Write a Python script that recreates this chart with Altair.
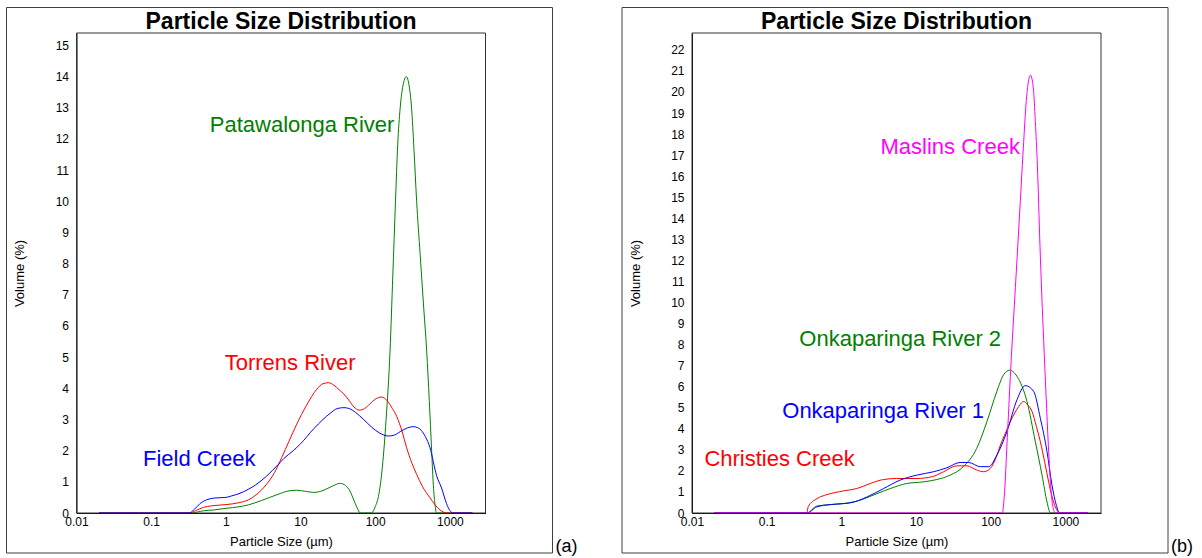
import altair as alt
import pandas as pd

# ---------------- Panel (a) ----------------
patawalonga_size = [0.02, 0.34, 0.5, 0.7, 1.0, 1.5, 2.0, 3.0, 5.0, 7.0, 8.9, 12, 15, 20, 27, 34, 40, 46, 51, 57, 63,
                    89, 100, 112, 125, 140, 158, 172, 187, 200, 216, 235, 261, 285, 307, 330, 359, 400, 440, 489,
                    530, 570, 597, 630, 664, 700, 2000]
patawalonga_vol = [0, 0, 0.07, 0.1, 0.15, 0.2, 0.26, 0.4, 0.6, 0.71, 0.73, 0.69, 0.66, 0.72, 0.87, 0.95, 0.88, 0.7,
                   0.45, 0.18, 0, 0, 0.2, 0.6, 1.5, 3.0, 5.2, 7.6, 10, 11.8, 13, 13.7, 14.0, 13.7, 13, 11.7, 10, 8.3,
                   6.8, 5.2, 3.6, 2.0, 1.0, 0.3, 0, 0, 0]

torrens_size = [0.02, 0.33, 0.4, 0.5, 0.65, 1.0, 1.5, 2.0, 2.6, 3.5, 4.5, 5.6, 7, 8.9, 12, 16.5, 20, 23.6, 28, 33,
                38, 45, 52, 61, 72, 85, 100, 122, 145, 170, 194, 230, 263, 310, 359, 430, 541, 640, 735, 820, 900,
                2000]
torrens_vol = [0, 0, 0.08, 0.18, 0.23, 0.27, 0.33, 0.42, 0.6, 0.92, 1.3, 1.78, 2.3, 2.85, 3.45, 3.97, 4.15, 4.18,
               4.1, 3.95, 3.82, 3.6, 3.4, 3.3, 3.35, 3.5, 3.65, 3.72, 3.6, 3.35, 3.1, 2.6, 2.1, 1.6, 1.24, 0.85,
               0.49, 0.25, 0.1, 0.03, 0, 0]

field_size = [0.02, 0.32, 0.38, 0.45, 0.55, 0.7, 1.0, 1.2, 1.5, 2.0, 2.5, 3.5, 5.0, 6.0, 8.0, 10, 15, 20, 25, 31,
              38, 45, 55, 70, 90, 112, 130, 150, 180, 220, 270, 323, 370, 415, 470, 541, 664, 774, 903, 1000,
              1100, 2000]
field_vol = [0, 0, 0.12, 0.3, 0.42, 0.48, 0.5, 0.55, 0.62, 0.76, 0.9, 1.18, 1.55, 1.75, 2.0, 2.22, 2.7, 3.0, 3.2,
             3.35, 3.38, 3.35, 3.22, 3.0, 2.75, 2.58, 2.5, 2.47, 2.5, 2.62, 2.73, 2.77, 2.74, 2.65, 2.45, 2.1, 1.2,
             0.8, 0.3, 0.08, 0, 0]

# ---------------- Panel (b) ----------------
onk2_size = [0.02, 0.344, 0.47, 1.07, 1.61, 3.0, 4.5, 7.5, 12.6, 19, 28.7, 43, 65, 89, 121, 149, 179, 225, 306,
             396, 487, 568, 630, 2000]
onk2_vol = [0, 0, 0.33, 0.45, 0.56, 0.92, 1.16, 1.4, 1.48, 1.59, 1.8, 2.2, 3.07, 4.34, 5.78, 6.57, 6.78, 6.49, 5.3,
            3.39, 1.8, 0.52, 0, 0]

christies_size = [0.02, 0.344, 0.36, 0.47, 0.64, 1.07, 1.61, 2.43, 3.67, 5.5, 10.3, 16.3, 23.4, 35.3, 48, 65, 80.5,
                  99, 120, 135, 160, 183, 210, 237, 277, 310, 358, 410, 462, 530, 597, 660, 734, 790, 838, 2000]
christies_vol = [0, 0, 0.3, 0.68, 0.87, 1.05, 1.16, 1.4, 1.59, 1.64, 1.64, 1.72, 1.96, 2.24, 2.24, 2.04, 1.96, 2.12,
                 2.7, 3.23, 3.85, 4.34, 4.75, 5.06, 5.3, 5.15, 4.82, 4.1, 3.39, 2.4, 1.48, 0.8, 0.29, 0.08, 0, 0]

onk1_size = [0.02, 0.344, 0.47, 0.71, 1.31, 2.2, 3.67, 6.1, 10.3, 17.2, 26, 39, 50.7, 72.7, 94, 121, 165, 225, 290,
             376, 462, 568, 662, 757, 838, 2000]
onk1_vol = [0, 0, 0.29, 0.4, 0.48, 0.76, 1.16, 1.56, 1.8, 1.96, 2.15, 2.4, 2.4, 2.2, 2.2, 2.75, 3.87, 5.38, 6.05,
            5.78, 4.5, 2.91, 1.32, 0.37, 0, 0]

maslins_size = [0.02, 143, 152, 167, 189, 214, 242, 273, 300, 324, 340, 372, 396, 422, 457, 484, 512, 551, 592, 639,
                680, 735, 2000]
maslins_vol = [0, 0, 0.8, 3.6, 7.4, 10.7, 14.0, 17.3, 19.6, 20.6, 20.8, 20.2, 18.6, 16.5, 12.7, 10.3, 8.2, 5.6, 3.2,
               1.2, 0.3, 0, 0]

# annotation labels: text, size, volume (baseline position), colour
labels_a = ["Patawalonga River", "Torrens River", "Field Creek"]
labels_a_size = [10.5, 7.26, 0.44]
labels_a_vol = [12.23, 4.59, 1.51]
labels_a_color = ["#008000", "#ff0000", "#0000ff"]

labels_b = ["Maslins Creek", "Onkaparinga River 2", "Onkaparinga River 1", "Christies Creek"]
labels_b_size = [28.7, 6.14, 3.63, 0.149]
labels_b_vol = [17.04, 7.92, 4.49, 2.24]
labels_b_color = ["#ff00ff", "#008000", "#0000ff", "#ff0000"]

x_ticks = [0.01, 0.1, 1, 10, 100, 1000]

W = 409
H = 480
FONT = "Liberation Sans"


def panel(series, lab, lab_size, lab_vol, lab_color, ymax, ytick_max, tag):
    xscale = alt.Scale(type="log", domain=[0.01, 3000], nice=False)
    yscale = alt.Scale(domain=[0, ymax], nice=False, zero=True)
    xaxis = alt.Axis(values=x_ticks, format="~g", title="Particle Size (µm)", ticks=False, tickSize=0,
                     labelPadding=3, labelFlush=False, grid=False, domainColor="#000000",
                     labelFont=FONT, labelFontSize=12, labelColor="#000000", labelOverlap=False,
                     titleFont=FONT, titleFontSize=13, titleFontWeight="normal", titleColor="#000000",
                     titleX=W / 2, titleY=28, titleBaseline="middle", titleAlign="center")
    yaxis = alt.Axis(values=list(range(0, ytick_max + 1)), format="d", title="Volume (%)", ticks=False,
                     tickSize=0, labelPadding=8, labelFlush=False, grid=False, domainColor="#000000",
                     labelFont=FONT, labelFontSize=12, labelColor="#000000", labelOverlap=False,
                     titleFont=FONT, titleFontSize=13, titleFontWeight="normal", titleColor="#000000",
                     titleX=-57, titleY=H / 2, titleAngle=270, titleAlign="center", titleBaseline="middle")
    xenc = alt.X("size:Q", scale=xscale, axis=xaxis)
    yenc = alt.Y("vol:Q", scale=yscale, axis=yaxis)

    one = pd.DataFrame({"k": [0]})
    outer = alt.Chart(one).mark_rect(filled=False, stroke="#404040", strokeWidth=1).encode(
        x=alt.value(-70), x2=alt.value(W + 67), y=alt.value(-25.5), y2=alt.value(H + 40))
    inner = alt.Chart(one).mark_rect(filled=False, stroke="#333333", strokeWidth=1).encode(
        x=alt.value(0), x2=alt.value(W), y=alt.value(0), y2=alt.value(H))
    layers = [outer, inner]
    for sizes, vols, color in series:
        df = pd.DataFrame({"size": sizes, "vol": vols})
        layers.append(alt.Chart(df).mark_line(color=color, strokeWidth=1, interpolate="monotone",
                                              clip=True).encode(x=xenc, y=yenc))
    ann = pd.DataFrame({"label": lab, "size": lab_size, "vol": lab_vol, "col": lab_color})
    layers.append(alt.Chart(ann).mark_text(font=FONT, fontSize=22, align="center", baseline="alphabetic").encode(
        x=xenc, y=yenc, text="label:N", color=alt.Color("col:N", scale=None)))
    layers.append(alt.Chart(one).mark_text(text="Particle Size Distribution", font=FONT, fontSize=23,
                                           fontWeight="bold", color="#000000", align="center",
                                           baseline="alphabetic").encode(x=alt.value(W / 2), y=alt.value(-4)))
    layers.append(alt.Chart(one).mark_text(text=tag, font=FONT, fontSize=18, color="#000000", align="center",
                                           baseline="alphabetic").encode(x=alt.value(W + 81), y=alt.value(H + 39)))
    return alt.layer(*layers).properties(width=W, height=H)


left = panel([(patawalonga_size, patawalonga_vol, "#008000"),
              (torrens_size, torrens_vol, "#ff0000"),
              (field_size, field_vol, "#0000ff")],
             labels_a, labels_a_size, labels_a_vol, labels_a_color, 15.4, 15, "(a)")
right = panel([(onk2_size, onk2_vol, "#008000"),
               (christies_size, christies_vol, "#ff0000"),
               (onk1_size, onk1_vol, "#0000ff"),
               (maslins_size, maslins_vol, "#ff00ff")],
              labels_b, labels_b_size, labels_b_vol, labels_b_color, 22.8, 22, "(b)")

chart = alt.hconcat(left, right, spacing=42.5).properties(
    padding={"left": 5.5, "top": 6, "right": 0, "bottom": 0},
    background="white",
).configure_view(stroke="transparent")

chart.save("out.html", embed_options={"renderer": "svg", "actions": False})
